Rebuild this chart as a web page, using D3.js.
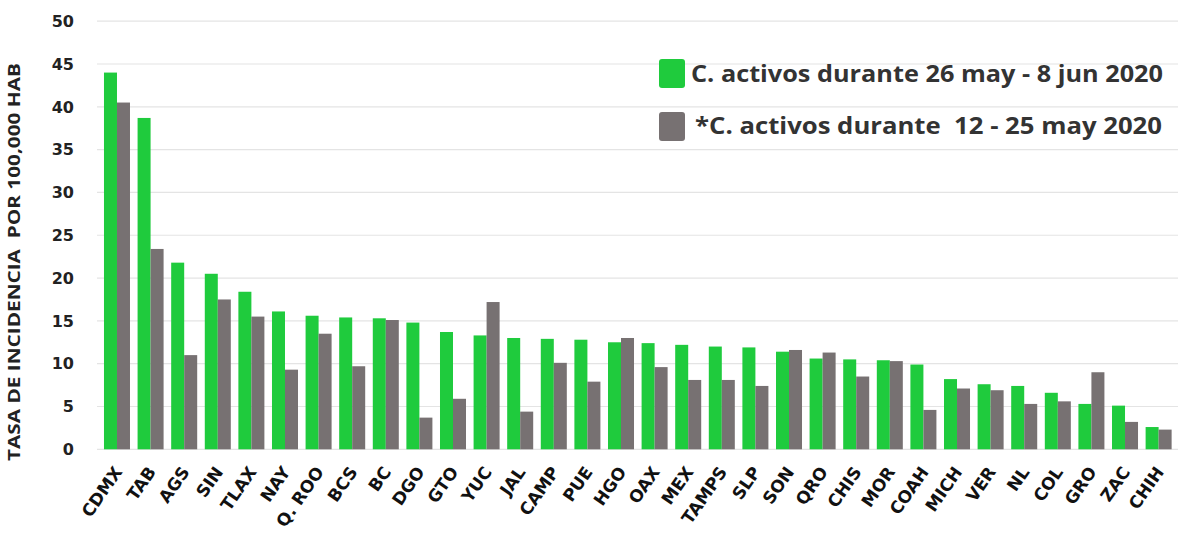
<!DOCTYPE html>
<html>
<head>
<meta charset="utf-8">
<script src="https://cdn.jsdelivr.net/npm/d3@7"></script>
<style>
  html, body { margin: 0; padding: 0; background: #fff; }
  svg { display: block; font-family: "Open Sans", "Lato", sans-serif; }
</style>
</head>
<body>
<svg id="chart" width="1199" height="541"></svg>
<script>
const categories = ["CDMX","TAB","AGS","SIN","TLAX","NAY","Q. ROO","BCS","BC","DGO","GTO","YUC","JAL","CAMP","PUE","HGO","OAX","MEX","TAMPS","SLP","SON","QRO","CHIS","MOR","COAH","MICH","VER","NL","COL","GRO","ZAC","CHIH"];
const currentValues = [44.0,38.7,21.8,20.5,18.4,16.1,15.6,15.4,15.3,14.8,13.7,13.3,13.0,12.9,12.8,12.5,12.4,12.2,12.0,11.9,11.4,10.6,10.5,10.4,9.9,8.2,7.6,7.4,6.6,5.3,5.1,2.6];
const previousValues = [40.5,23.4,11.0,17.5,15.5,9.3,13.5,9.7,15.1,3.7,5.9,17.2,4.4,10.1,7.9,13.0,9.6,8.1,8.1,7.4,11.6,11.3,8.5,10.3,4.6,7.1,6.9,5.3,5.6,9.0,3.2,2.3];
const seriesNames = ["C. activos durante 26 may - 8 jun 2020", "*C. activos durante  12 - 25 may 2020"];
const yTicks = [0,5,10,15,20,25,30,35,40,45,50];
const yTitle = "TASA DE INCIDENCIA  POR 100,000 HAB";

const colors = ["#1fcb3d", "#777172"];
const svg = d3.select("#chart");

const y = d3.scaleLinear().domain([0, 50]).range([449.3, 21.2]);
const x0 = d3.scaleBand().domain(categories).range([93.9, 1181.7]).paddingInner(0.226).paddingOuter(0.3);
const x1 = d3.scaleBand().domain([0, 1]).range([0, x0.bandwidth()]).padding(0);

// gridlines
svg.append("g").selectAll("line").data(yTicks).join("line")
  .attr("x1", 97).attr("x2", 1178)
  .attr("y1", d => y(d)).attr("y2", d => y(d))
  .attr("stroke", "#e4e4e4").attr("stroke-width", 1.2);

// y tick labels
svg.append("g").selectAll("text").data(yTicks).join("text")
  .attr("x", 74).attr("y", d => y(d)).attr("dy", "0.36em")
  .attr("text-anchor", "end")
  .attr("font-family", "DejaVu Sans").attr("font-size", 16).attr("font-weight", 700).attr("fill", "#222")
  .text(d => d);

// y title
svg.append("text")
  .attr("transform", "translate(20,262) rotate(-90)")
  .attr("text-anchor", "middle")
  .attr("font-size", 16).attr("font-weight", 700).attr("fill", "#222")
  .attr("textLength", 398).attr("lengthAdjust", "spacingAndGlyphs")
  .attr("xml:space", "preserve")
  .text(yTitle);

// bars
const rows = categories.map((c, i) => ({c, vals: [currentValues[i], previousValues[i]]}));
const g = svg.append("g").selectAll("g").data(rows).join("g")
  .attr("transform", d => `translate(${x0(d.c)},0)`);
g.selectAll("rect").data(d => d.vals.map((v, k) => ({v, k}))).join("rect")
  .attr("x", d => x1(d.k)).attr("width", x1.bandwidth())
  .attr("y", d => y(d.v)).attr("height", d => y(0) - y(d.v))
  .attr("fill", d => colors[d.k]);

// x labels
svg.append("g").selectAll("text").data(categories).join("text")
  .attr("transform", d => `translate(${x0(d) + x0.bandwidth()/2 + 6},472) rotate(-55)`)
  .attr("text-anchor", "end")
  .attr("font-family", "DejaVu Sans").attr("font-size", 17).attr("font-weight", 700).attr("fill", "#111")
  .text(d => d);

// legend
const legend = svg.append("g");
const legY = [59, 112];
const legBase = [82, 134];
const legX = [691, 695];
const legLen = [472, 467];
seriesNames.forEach((name, k) => {
  legend.append("rect").attr("x", 659).attr("y", legY[k]).attr("width", 26).attr("height", 29)
    .attr("rx", 3).attr("fill", colors[k]);
  legend.append("text").attr("x", legX[k]).attr("y", legBase[k])
    .attr("font-size", 23).attr("font-weight", 700).attr("fill", "#333")
    .attr("textLength", legLen[k]).attr("lengthAdjust", "spacingAndGlyphs")
    .attr("xml:space", "preserve")
    .text(name);
});
</script>
</body>
</html>
